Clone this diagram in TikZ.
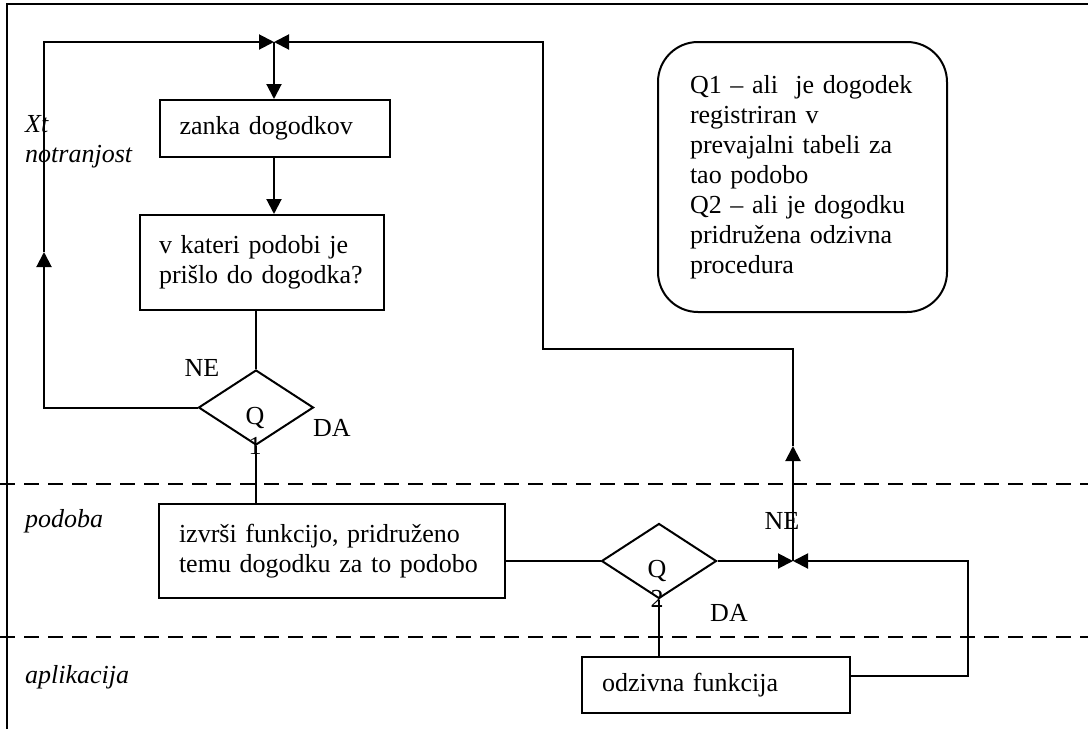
\documentclass[tikz,border=0pt]{standalone}
\usepackage{fontspec}
\setmainfont{Liberation Serif}
\usetikzlibrary{arrows.meta,shapes.geometric}

\begin{document}
\begin{tikzpicture}[x=1pt,y=-1pt,every node/.style={font=\fontsize{26}{30}\selectfont}]
   \tikzstyle{blk}=[draw,line width=2pt,align=left,inner xsep=20pt,inner ysep=0pt];
   \tikzstyle{dec}=[diamond,draw,line width=2pt,minimum width=115pt,minimum height=75pt,inner sep=0pt];
   \tikzstyle{lane}=[font=\fontsize{26}{30}\selectfont\itshape,align=left,anchor=west,inner sep=0pt];
   \tikzstyle{l}=[draw,line width=2pt,-{Triangle[length=15pt,width=15pt]}];
   \tikzstyle{w}=[draw,line width=2pt];
   \tikzstyle{dsh}=[draw,line width=2pt,dash pattern=on 15pt off 9pt];
   \useasboundingbox (0,0) rectangle (1088,729);
   % frame and lanes
   \draw[w] (7,729) -- (7,4) -- (1088,4);
   \draw[dsh] (0,484) -- (1088,484);
   \draw[dsh] (0,637) -- (1088,637);
   \node[lane] (xt)  at (25,142) {Xt\\notranjost};
   \node[lane] (pod) at (25,521) {podoba};
   \node[lane] (apl) at (25,677) {aplikacija};
   % blocks
   \node[blk,text width=190pt,minimum height=57pt] (loop)  at (274.5,128.5) {zanka dogodkov};
   \node[blk,text width=206pt,minimum height=95pt,inner xsep=19pt] (check) at (262,262.5) {v kateri podobi je\\prišlo do dogodka?};
   \node[blk,text width=306pt,minimum height=94pt] (exec)  at (332,551) {izvrši funkcijo, pridruženo\\temu dogodku za to podobo};
   \node[blk,text width=228pt,minimum height=56pt] (resp)  at (716,685) {odzivna funkcija};
   \node[dec] (q1) at (256,407.5) {};
   \node[dec] (q2) at (659,561) {};
   \node[align=center,inner sep=0pt] (q1t) at (255,431) {Q\\1};
   \node[align=center,inner sep=0pt] (q2t) at (657,584) {Q\\2};
   \node (ne1) at (202,368) {NE};
   \node (da1) at (332,428) {DA};
   \node (ne2) at (782,521) {NE};
   \node (da2) at (729,613) {DA};
   % legend
   \node[draw,line width=2pt,rounded corners=40pt,minimum width=289pt,minimum height=270pt,
         text width=225pt,inner xsep=32pt,align=left] (key) at (802.5,177)
     {Q1 – ali\ \ je dogodek\\registriran v\\prevajalni tabeli za\\tao podobo\\Q2 – ali je dogodku\\pridružena odzivna\\procedura};
   % connectors
   \coordinate (jt) at (274,42);
   \coordinate (ul) at (44,42);
   \coordinate (ml) at (44,252);
   \coordinate (jb) at (793,561);
   \coordinate (mr) at (793,446);
   \coordinate (cr) at (543,349);
   \coordinate (rr) at (968,676);
   \draw[l] (jt) -- (jt |- loop.north);
   \draw[l] (loop.south -| jt) -- (jt |- check.north);
   \draw[w] (check.south -| q1.north) -- (q1.north);
   \draw[l] (q1.west) -| (ml);
   \draw[l] (ml) -- (ul) -- (jt);
   \draw[w] (q1.south) -- (q1.south |- exec.north);
   \draw[w] (exec.east |- q2.west) -- (q2.west);
   \draw[l] (q2.east) -- (jb);
   \draw[w] (q2.south) -- (q2.south |- resp.north);
   \draw[l] (resp.east |- rr) -- (rr) |- (jb);
   \draw[l] (jb) -- (mr);
   \draw[l] (mr) |- (cr) |- (jt);
\end{tikzpicture}
\end{document}
